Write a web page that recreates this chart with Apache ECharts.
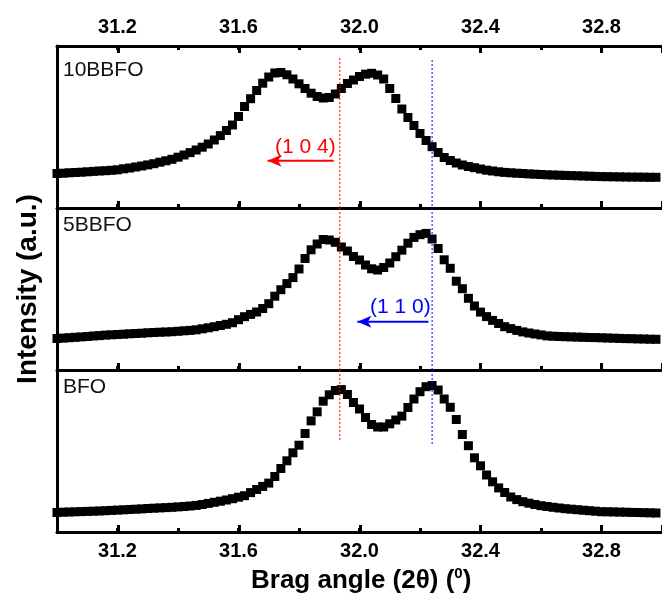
<!DOCTYPE html>
<html><head><meta charset="utf-8">
<script src="https://cdn.jsdelivr.net/npm/echarts@6/dist/echarts.min.js"></script>
<style>html,body{margin:0;padding:0;background:#fff}#c{width:662px;height:599px}</style>
</head><body><div id="c"></div>
<script>
// 2-theta sampling (degrees)
const angle = [
31.00,31.02,31.04,31.06,31.08,31.10,31.12,31.14,31.16,31.18,
31.20,31.22,31.24,31.26,31.28,31.30,31.32,31.34,31.36,31.38,
31.40,31.42,31.44,31.46,31.48,31.50,31.52,31.54,31.56,31.58,
31.60,31.62,31.64,31.66,31.68,31.70,31.72,31.74,31.76,31.78,
31.80,31.82,31.84,31.86,31.88,31.90,31.92,31.94,31.96,31.98,
32.00,32.02,32.04,32.06,32.08,32.10,32.12,32.14,32.16,32.18,
32.20,32.22,32.24,32.26,32.28,32.30,32.32,32.34,32.36,32.38,
32.40,32.42,32.44,32.46,32.48,32.50,32.52,32.54,32.56,32.58,
32.60,32.62,32.64,32.66,32.68,32.70,32.72,32.74,32.76,32.78,
32.80,32.82,32.84,32.86,32.88,32.90,32.92,32.94,32.96,32.98];

const sampleNames = ['10BBFO', '5BBFO', 'BFO'];

const int10BBFO = [
34.5,34.8,35.2,35.5,35.8,36.2,36.6,37.0,37.3,37.7,
38.2,39.2,40.0,41.0,42.0,43.1,44.3,45.8,47.2,48.7,
50.8,53.0,55.4,58.0,60.8,64.0,68.0,72.4,77.5,83.0,
91.5,101.5,109.3,117.5,124.8,131,135,135.5,133.2,129,
124.2,119.5,114.8,111.5,110,110.5,114,119.5,124.5,128,
131.5,133.8,134.7,133,129,119.5,109.5,99,90.5,82.5,
74.5,67.5,61.3,55.5,50.5,47.5,45,43,41.5,40.3,
39,37.8,37.0,36.2,35.6,35.2,34.8,34.5,34.1,33.8,
33.5,33.2,33.0,32.8,32.6,32.4,32.2,32.0,31.8,31.6,
31.4,31.3,31.2,31.1,31.0,30.9,30.9,30.8,30.7,30.7];

const int5BBFO = [
31.5,31.9,32.3,32.7,33.1,33.5,34.0,34.4,34.9,35.2,
35.5,35.8,36.2,36.5,36.8,37.2,37.5,37.8,38.0,38.3,
38.7,39.2,39.6,40.2,41.2,42.2,43.3,44.5,45.7,47.3,
50.3,53.3,55.6,58,61.5,66.3,73.8,80.3,86.4,92.4,
101,111.5,120.2,126,130.5,130,127.7,123,119,113.5,
110,105,101.2,100,102.5,107,113.3,119.8,126.8,132.6,
135.3,136.6,131,121.5,110.2,101.7,88.8,81.3,71.7,64,
57.9,53.4,49.6,46.5,43.3,41.4,39.6,38.1,37,36,
35.1,34.1,33.8,33.5,33.3,33.1,32.9,32.7,32.5,32.4,
32.2,32.0,31.8,31.6,31.4,31.3,31.1,31.0,30.8,30.7];

const intBFO = [
19.5,19.8,20.0,20.2,20.4,20.6,20.8,21.0,21.3,21.6,
21.9,22.2,22.5,22.8,23.1,23.5,23.8,24.1,24.4,24.7,
25.1,25.5,26.0,26.6,27.5,28.6,29.7,30.8,32,33.3,
34.8,36.3,39.4,42.5,45.6,48.9,55.5,63.5,71.2,79.2,
86.8,98.5,111.1,120.2,130.8,137.2,141.5,142.4,137.5,129.5,
123,114.5,107.5,105,105,108.2,112,115.9,124.5,133,
140.3,145.3,146.5,142,133,124.7,112.5,97.5,86.3,74.2,
66.2,57,50.2,44.1,39.5,35.0,32.4,30.3,28.8,27.5,
26.3,25.5,24.7,24.0,23.3,22.8,22.3,21.8,21.3,20.8,
20.3,20.2,20.1,19.9,19.8,19.6,19.5,19.3,19.2,19.0];

const majorTicks = [31.2, 31.6, 32.0, 32.4, 32.8];
const xRange = [31.0, 33.0];
const majorRange = [31.2, 33.0];   // major ticks start at 31.2, step 0.4
const yRange = [0, 162];

// reference lines and annotations (data units)
const line104 = 31.935;
const line110 = 32.24;
const line104Span = [[150, 0], [162, 0], [162, 90]];
const line110Span = [[148, 0], [162, 0], [162, 88]];
const arrow104 = { from: 31.915, head: 31.696, level: 47.3, text: '(1 0 4)' };
const arrow110 = { from: 32.228, head: 31.993, level: 48.3, text: '(1 1 0)' };

const FONT = '"Liberation Sans", Arial, sans-serif';
const seriesData = [int10BBFO, int5BBFO, intBFO];
const RED = '#ff0000', BLUE = '#0000ff';

const chart = echarts.init(document.getElementById('c'), null, { renderer: 'canvas' });

const PLOT_LEFT = 57, PLOT_W = 612, PANEL_H = 162, PLOT_TOP = 46;
const pxPerUnit = PLOT_W / (xRange[1] - xRange[0]);
const shift = (majorRange[0] - xRange[0]) * pxPerUnit;
const mainGrids = [0, 1, 2].map(i => ({ left: PLOT_LEFT, top: PLOT_TOP + PANEL_H * i, width: PLOT_W, height: PANEL_H }));
const tickGrids = [0, 1, 2].map(i => ({ left: PLOT_LEFT + shift, top: PLOT_TOP + PANEL_H * i, width: PLOT_W - shift, height: PANEL_H }));

function mainX(g, pos, lab) {
  return { type: 'value', gridIndex: g, position: pos, min: xRange[0], max: xRange[1], interval: 0.2,
    axisLine: { show: true, onZero: false, lineStyle: { color: '#000', width: 3 } },
    axisTick: { show: true, inside: true, length: 4, lineStyle: { color: '#000', width: 3 } },
    axisLabel: { show: lab, customValues: majorTicks, formatter: v => v.toFixed(1), fontSize: 20, fontWeight: 'bold',
      color: '#000', margin: 9, fontFamily: FONT },
    splitLine: { show: false } };
}
function majorX(g, pos) {
  return { type: 'value', gridIndex: g, position: pos, min: majorRange[0], max: majorRange[1], interval: 0.4,
    axisLine: { show: false, onZero: false },
    axisTick: { show: true, inside: true, length: 7, lineStyle: { color: '#000', width: 3 } },
    axisLabel: { show: false }, splitLine: { show: false } };
}
const xAxis = [mainX(0, 'bottom', false), mainX(0, 'top', true), mainX(1, 'bottom', false), mainX(2, 'bottom', true),
  majorX(3, 'bottom'), majorX(3, 'top'), majorX(4, 'bottom'), majorX(5, 'bottom')];
const yAxis = [0, 1, 2, 3, 4, 5].map(i => ({ type: 'value', gridIndex: i, min: yRange[0], max: yRange[1],
  axisLine: { show: i < 3, onZero: false, lineStyle: { color: '#000', width: 3 } },
  axisTick: { show: false }, axisLabel: { show: false }, splitLine: { show: false } }));
const seriesX = [0, 2, 3];

const series = [];
seriesData.forEach((vals, i) => {
  series.push({ type: 'scatter', xAxisIndex: seriesX[i], yAxisIndex: i, symbol: 'rect', symbolSize: 9,
    itemStyle: { color: '#000', opacity: 1 }, data: angle.map((a, k) => [a, vals[k]]) });
  [[line104, line104Span[i], RED], [line110, line110Span[i], BLUE]].forEach(([x, span, color]) => {
    series.push({ type: 'line', xAxisIndex: seriesX[i], yAxisIndex: i, symbol: 'none', silent: true,
      lineStyle: { color, width: 1, type: [2, 2] }, data: [[x, span[0]], [x, span[1]]] });
  });
});
[[arrow104, 0, RED], [arrow110, 1, BLUE]].forEach(([a, i, color]) => {
  series.push({ type: 'line', xAxisIndex: seriesX[i], yAxisIndex: i, silent: true, showSymbol: true,
    itemStyle: { color }, lineStyle: { color, width: 2 },
    data: [
      { value: [a.head, a.level], symbol: 'arrow', symbolSize: [9, 14], symbolRotate: 90 },
      { value: [a.from, a.level], symbol: 'none' }
    ] });
});

const titleBase = { padding: 0, itemGap: 0 };
const titles = [
  Object.assign({ text: sampleNames[0], left: 63, top: 60, textStyle: { fontSize: 21, fontWeight: 'normal', color: '#111', fontFamily: FONT } }, titleBase),
  Object.assign({ text: sampleNames[1], left: 63, top: 215, textStyle: { fontSize: 21, fontWeight: 'normal', color: '#111', fontFamily: FONT } }, titleBase),
  Object.assign({ text: sampleNames[2], left: 63, top: 377, textStyle: { fontSize: 21, fontWeight: 'normal', color: '#111', fontFamily: FONT } }, titleBase),
  Object.assign({ text: arrow104.text, left: 275, top: 137, textStyle: { fontSize: 21, fontWeight: 'normal', color: RED, fontFamily: FONT } }, titleBase),
  Object.assign({ text: arrow110.text, left: 370, top: 297, textStyle: { fontSize: 21, fontWeight: 'normal', color: BLUE, fontFamily: FONT } }, titleBase),
  Object.assign({ text: 'Brag angle (2θ) ({s|0})', left: 251, top: 566,
    textStyle: { fontSize: 26, fontWeight: 'bold', color: '#000', fontFamily: FONT,
      rich: { s: { fontSize: 15, fontWeight: 'bold', color: '#000', fontFamily: FONT, padding: [0, 0, 15, 0] } } } }, titleBase)
];

const graphic = [{ type: 'text', x: 28, y: 289, rotation: Math.PI / 2, silent: true,
  style: { text: 'Intensity (a.u.)', font: 'bold 28px "Liberation Sans", Arial, sans-serif', fill: '#000',
    align: 'center', verticalAlign: 'middle' } }];

chart.setOption({
  animation: false,
  title: titles,
  grid: mainGrids.concat(tickGrids),
  xAxis, yAxis, series, graphic
});
</script>
</body></html>
